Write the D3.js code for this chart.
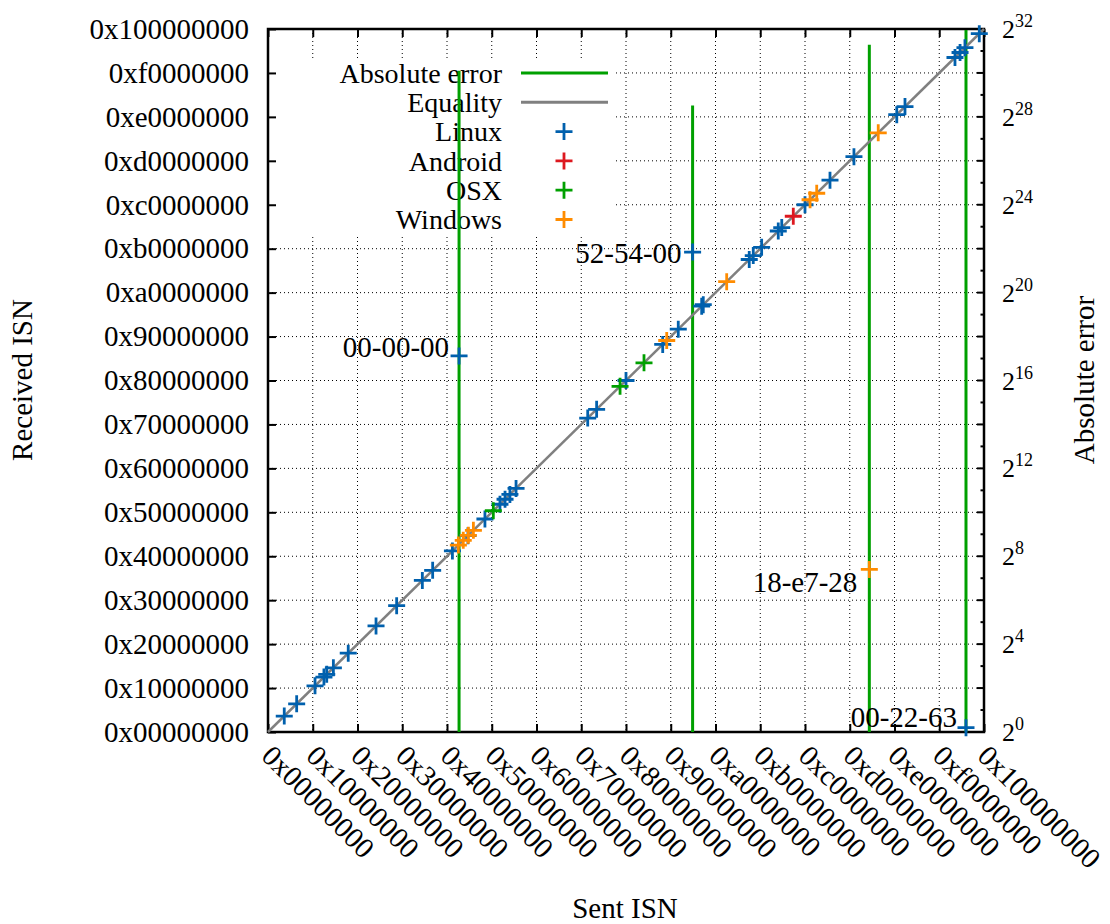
<!DOCTYPE html>
<html>
<head>
<meta charset="utf-8">
<script src="https://d3js.org/d3.v7.min.js"></script>
<style>
body { margin: 0; background: #fff; }
text { font-family: "Liberation Serif", serif; fill: #000; }
</style>
</head>
<body>
<svg id="chart"></svg>
<script>
// [sent ISN, received ISN] pairs
const linux = [
    [0x05D00000, 0x05D00000], [0x0A400000, 0x0A400000], [0x10D00000, 0x10D00000],
    [0x14000000, 0x14000000], [0x15000000, 0x15000000], [0x17600000, 0x17600000],
    [0x1CB00000, 0x1CB00000], [0x26A00000, 0x26A00000], [0x2E000000, 0x2E000000],
    [0x37300000, 0x37300000], [0x3AE00000, 0x3AE00000], [0x41F00000, 0x41F00000],
    [0x47800000, 0x47800000], [0x4D900000, 0x4D900000], [0x52F00000, 0x52F00000],
    [0x54C00000, 0x54C00000], [0x56800000, 0x56800000], [0x58B00000, 0x58B00000],
    [0x72500000, 0x72500000], [0x75800000, 0x75800000], [0x80000000, 0x80000000],
    [0x8D200000, 0x8D200000], [0x92B00000, 0x92B00000], [0x9B100000, 0x9B100000],
    [0x9BA00000, 0x9BA00000], [0xAC100000, 0xAC100000], [0xAD800000, 0xAD800000],
    [0xB0800000, 0xB0800000], [0xB6700000, 0xB6700000], [0xB7B00000, 0xB7B00000],
    [0xC0000000, 0xC0000000], [0xC8F00000, 0xC8F00000], [0xD1800000, 0xD1800000],
    [0xE0D00000, 0xE0D00000], [0xE3C00000, 0xE3C00000], [0xF5A00000, 0xF5A00000],
    [0xF7700000, 0xF7700000], [0xF9300000, 0xF9300000], [0xFE500000, 0xFE500000]
];
const android = [[0xBBD00000, 0xBBD00000]];
const osx = [[0x50900000, 0x50900000], [0x7DE00000, 0x7DE00000], [0x86700000, 0x86700000]];
const windows = [
    [0x44100000, 0x44100000], [0x45D00000, 0x45D00000], [0x47A00000, 0x47A00000],
    [0x49700000, 0x49700000], [0x8E900000, 0x8E900000], [0xA4000000, 0xA4000000],
    [0xC1D00000, 0xC1D00000], [0xC4300000, 0xC4300000], [0xDA300000, 0xDA300000]
];

// mismatching hosts (MAC prefix labels)
const outlierLabels = ["00-00-00", "52-54-00", "18-e7-28", "00-22-63"];
const outlierOS = ["Linux", "Linux", "Windows", "Linux"];
const outlierSent = [0x44500000, 0x97D00000, 0xD7000000, 0xF9900000];
const outlierRecv = [0x88F00000, 0xAEC00000, 0x3B300000, 0x01900000];

const osNames = ["Linux", "Android", "OSX", "Windows"];
const osSeries = [linux, android, osx, windows];
const osColors = ["#0060ad", "#dd181f", "#00a000", "#ff8c00"];

// label placement relative to the point (right-aligned)
const labelDx = [-10, -11, -12, -9];
const labelDy = [-9, 1, 12, -11];

const svgWidth = 1110;
const svgHeight = 924;
const margin = { top: 29, right: 126, bottom: 192, left: 268 };
const width = svgWidth - margin.left - margin.right;
const height = svgHeight - margin.top - margin.bottom;

const svg = d3.select("#chart")
    .attr("width", svgWidth)
    .attr("height", svgHeight);

svg.append("rect").attr("width", svgWidth).attr("height", svgHeight).attr("fill", "#fff");

const chart = svg.append("g")
    .attr("transform", `translate(${margin.left},${margin.top})`);

const x = d3.scaleLinear().domain([0, 2 ** 32]).range([0, width]);
const y = d3.scaleLinear().domain([0, 2 ** 32]).range([height, 0]);
const y2 = d3.scaleLog().base(2).domain([1, 2 ** 32]).range([height, 0]);

const ticks = d3.range(0, 17).map(i => i * 0x10000000);
const hex = v => "0x" + v.toString(16).padStart(8, "0");

// grid
const grid = chart.append("g")
    .attr("stroke", "#000")
    .attr("stroke-width", 1)
    .attr("stroke-dasharray", "1,3");
grid.selectAll(".gx").data(ticks.slice(1, -1)).enter().append("line")
    .attr("x1", d => x(d)).attr("x2", d => x(d))
    .attr("y1", 0).attr("y2", height);
grid.selectAll(".gy").data(ticks.slice(1, -1)).enter().append("line")
    .attr("x1", 0).attr("x2", width)
    .attr("y1", d => y(d)).attr("y2", d => y(d));

// opaque key
const key = chart.append("g");
key.append("rect")
    .attr("x", 1).attr("y", 31)
    .attr("width", 346).attr("height", 176)
    .attr("fill", "#fff");

const keyEntries = [
    { name: "Absolute error", type: "line", color: "#00a000" },
    { name: "Equality", type: "line", color: "#808080" }
].concat(osNames.map((n, i) => ({ name: n, type: "point", color: osColors[i] })));

const cross = s => `M${-s},0H${s}M0,${-s}V${s}`;

const rows = key.selectAll(".row").data(keyEntries).enter().append("g")
    .attr("transform", (d, i) => `translate(0,${44 + i * 29.3})`);
rows.append("text")
    .attr("x", 234)
    .attr("dy", "0.35em")
    .attr("text-anchor", "end")
    .attr("font-size", 28)
    .text(d => d.name);
rows.filter(d => d.type === "line").append("line")
    .attr("x1", 253).attr("x2", 340)
    .attr("stroke", d => d.color)
    .attr("stroke-width", 3);
rows.filter(d => d.type === "point").append("path")
    .attr("transform", "translate(296,0)")
    .attr("d", cross(8.5))
    .attr("fill", "none")
    .attr("stroke", d => d.color)
    .attr("stroke-width", 2.8);

// border
chart.append("rect")
    .attr("width", width).attr("height", height)
    .attr("fill", "none")
    .attr("stroke", "#000")
    .attr("stroke-width", 2.5);

// axes
const styleAxis = (g, size) => {
    g.select(".domain").remove();
    g.selectAll("line").attr("stroke", "#000").attr("stroke-width", 2);
    g.attr("font-family", null).attr("font-size", size);
};

chart.append("g")
    .call(d3.axisLeft(y).tickValues(ticks).tickFormat(hex).tickSizeInner(-8).tickSizeOuter(0).tickPadding(19))
    .call(styleAxis, 29);

chart.append("g")
    .call(d3.axisTop(x).tickValues(ticks).tickFormat("").tickSizeInner(-8).tickSizeOuter(0))
    .call(styleAxis, 29);

const xAxis = chart.append("g")
    .attr("transform", `translate(0,${height})`)
    .call(d3.axisBottom(x).tickValues(ticks).tickFormat(hex).tickSizeInner(-8).tickSizeOuter(0))
    .call(styleAxis, 29);
xAxis.selectAll("text")
    .attr("text-anchor", "start")
    .attr("x", 12)
    .attr("y", 24)
    .attr("dy", 0)
    .attr("transform", "rotate(45)");

const exps = d3.range(0, 33);
const y2Axis = chart.append("g")
    .attr("transform", `translate(${width},0)`);
y2Axis.selectAll("line").data(exps).enter().append("line")
    .attr("x1", 0)
    .attr("x2", d => d % 2 === 0 ? -7 : -3.5)
    .attr("y1", d => y2(2 ** d)).attr("y2", d => y2(2 ** d))
    .attr("stroke", "#000").attr("stroke-width", 2);
const y2Labels = y2Axis.selectAll("text").data(exps.filter(d => d % 4 === 0)).enter().append("text")
    .attr("x", 18)
    .attr("y", d => y2(2 ** d) + 9)
    .attr("font-size", 26);
y2Labels.append("tspan").text("2");
y2Labels.append("tspan").attr("dy", -11).attr("font-size", 18).text(d => d);

// absolute error impulses
chart.append("g").selectAll("line")
    .data(outlierLabels.map((l, i) => Math.abs(outlierRecv[i] - outlierSent[i])))
    .enter().append("line")
    .attr("x1", (d, i) => x(outlierSent[i])).attr("x2", (d, i) => x(outlierSent[i]))
    .attr("y1", y2(1)).attr("y2", d => y2(d))
    .attr("stroke", "#00a000")
    .attr("stroke-width", 3);

// equality
chart.append("line")
    .attr("x1", x(0)).attr("y1", y(0))
    .attr("x2", x(2 ** 32)).attr("y2", y(2 ** 32))
    .attr("stroke", "#808080")
    .attr("stroke-width", 2.5);

// points per OS
osSeries.forEach((series, i) => {
    const pts = series.concat(outlierLabels
        .map((l, j) => [outlierSent[j], outlierRecv[j], outlierOS[j]])
        .filter(d => d[2] === osNames[i]));
    chart.append("g").selectAll("path")
        .data(pts)
        .enter().append("path")
        .attr("transform", d => `translate(${x(d[0])},${y(d[1])})`)
        .attr("d", cross(8.5))
        .attr("fill", "none")
        .attr("stroke", osColors[i])
        .attr("stroke-width", 2.8);
});

// outlier labels
chart.append("g").selectAll("text")
    .data(outlierLabels)
    .enter().append("text")
    .attr("x", (d, i) => x(outlierSent[i]) + labelDx[i])
    .attr("y", (d, i) => y(outlierRecv[i]) + labelDy[i])
    .attr("dy", "0.35em")
    .attr("text-anchor", "end")
    .attr("font-size", 29)
    .text(d => d);

// axis titles
svg.append("text")
    .attr("transform", "translate(32,380) rotate(-90)")
    .attr("text-anchor", "middle")
    .attr("font-size", 29)
    .text("Received ISN");
svg.append("text")
    .attr("transform", "translate(1094,380) rotate(-90)")
    .attr("text-anchor", "middle")
    .attr("font-size", 29)
    .text("Absolute error");
svg.append("text")
    .attr("x", 625)
    .attr("y", 918)
    .attr("text-anchor", "middle")
    .attr("font-size", 29)
    .text("Sent ISN");
</script>
</body>
</html>
